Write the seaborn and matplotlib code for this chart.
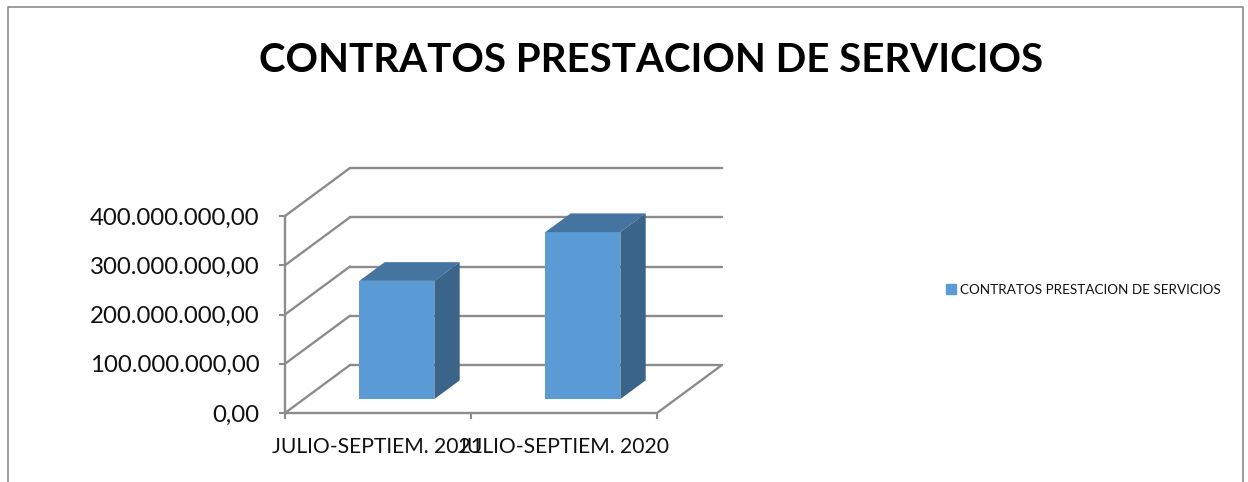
import matplotlib
matplotlib.use('Agg')
import matplotlib.pyplot as plt
import pandas as pd
import seaborn as sns
from matplotlib.lines import Line2D
from matplotlib.patches import Patch, Polygon
from matplotlib.ticker import FuncFormatter

# Data
periods = ['JULIO-SEPTIEM. 2021', 'JULIO-SEPTIEM. 2020']
values = [240000000, 339000000]
series_name = 'CONTRATOS PRESTACION DE SERVICIOS'
y_ticks = [0, 100000000, 200000000, 300000000, 400000000]

W, H = 1248, 482
FRONT = '#5B9BD5'
TOP = '#4674A0'
SIDE = '#3A6488'
GRAY = '#8C8C8C'

sns.set_theme(style='white')
plt.rcParams['font.family'] = ['Lato', 'DejaVu Sans']

df = pd.DataFrame({'period': periods, 'value': values})

fig = plt.figure(figsize=(W / 100, H / 100), dpi=100)
# axes = the front plane of the fake 3D box, in pixels
ax = fig.add_axes([285 / W, 1 - 413 / H, 372 / W, 197 / H])
sns.barplot(data=df, x='period', y='value', color=FRONT, width=75 / 186,
            saturation=1, linewidth=0, edgecolor='none', ax=ax, zorder=3)
ax.set_xlim(-0.5, 1.5)
ax.set_ylim(0, 400000000)

# depth vector of the box in data units (65 px right, 48 px up)
dx = 65 / 186
dy = 48 / 197 * 400000000

# walls
for v in y_ticks:
    ax.plot([-0.5, -0.5 + dx], [v, v + dy], color=GRAY, lw=1.7, clip_on=False, zorder=1)
    ax.plot([-0.5 + dx, 1.5 + dx], [v + dy, v + dy], color=GRAY, lw=1.7, clip_on=False, zorder=1)
ax.plot([1.5, 1.5 + dx], [0, dy], color=GRAY, lw=1.7, clip_on=False, zorder=1)

# push the bars into the box and add top and side faces
near = 0.29
far = 0.68
for bar in ax.patches:
    bar.set_x(bar.get_x() + near * dx)
    bar.set_y(near * dy)
    bar.set_clip_on(False)
    x0 = bar.get_x()
    x1 = x0 + bar.get_width()
    y0 = bar.get_y()
    y1 = y0 + bar.get_height()
    ox = (far - near) * dx
    oy = (far - near) * dy
    ax.add_patch(Polygon([(x0, y1), (x1, y1), (x1 + ox, y1 + oy), (x0 + ox, y1 + oy)],
                         facecolor=TOP, edgecolor='none', clip_on=False, zorder=3))
    ax.add_patch(Polygon([(x1, y0), (x1 + ox, y0 + oy), (x1 + ox, y1 + oy), (x1, y1)],
                         facecolor=SIDE, edgecolor='none', clip_on=False, zorder=3))

# axes and ticks
sns.despine(ax=ax)
for side in ['left', 'bottom']:
    ax.spines[side].set_color(GRAY)
    ax.spines[side].set_linewidth(1.7)
ax.set_xlabel('')
ax.set_ylabel('')
ax.set_yticks(y_ticks)
ax.yaxis.set_major_formatter(FuncFormatter(
    lambda v, pos: f'{v:,.2f}'.replace(',', 'X').replace('.', ',').replace('X', '.')))
ax.set_xticks([-0.5, 0.5, 1.5], minor=True)
ax.tick_params(axis='x', which='major', length=0, pad=17.5, labelsize=15.2, labelcolor='#111111')
ax.tick_params(axis='x', which='minor', length=4, width=1.5, color=GRAY, bottom=True)
ax.tick_params(axis='y', length=4.5, width=1.5, color=GRAY, left=True, pad=14,
               labelsize=17.3, labelcolor='#111111')

fig.text(651 / W, 1 - 61 / H, series_name, ha='center', va='center',
         fontsize=29, fontweight='bold', color='black')

fig.legend(handles=[Patch(color=FRONT, label=series_name)], loc='center left',
           bbox_to_anchor=(934 / W, 1 - 290 / H), frameon=False, fontsize=9.7,
           handlelength=0.75, handleheight=0.75, handletextpad=0.3, labelcolor='#111111')

# outer chart frame, cut off at the bottom of the picture
frame_x = [8 / W, 8 / W, 1243 / W, 1243 / W]
frame_y = [0, 1 - 7 / H, 1 - 7 / H, 0]
fig.add_artist(Line2D(frame_x, frame_y, color=GRAY, lw=1.2, transform=fig.transFigure))

fig.savefig('out.png', dpi=100)
